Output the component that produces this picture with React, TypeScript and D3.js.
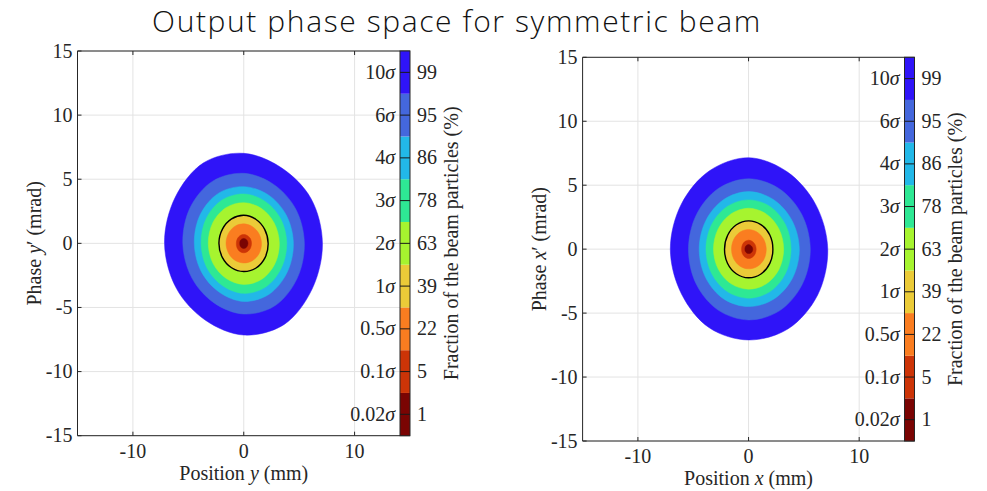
import React from "react";
import * as d3 from "d3";

// Contour levels, innermost first
const levelPercent = ["1", "5", "22", "39", "63", "78", "86", "95", "99"];
const levelSigma = ["0.02", "0.1", "0.5", "1", "2", "3", "4", "6", "10"];
const levelColors = [
  "#7a0403",
  "#cc3407",
  "#fa7d20",
  "#ebcb38",
  "#a6f42f",
  "#2ee894",
  "#22b8e8",
  "#4467dd",
  "#2f14f8",
];
// the 1σ contour is outlined in black
const outlinedLevel = 3;

// Contour radii sampled every 30° (0° = +position axis, counter-clockwise)
const contourAngles = [0, 30, 60, 90, 120, 150, 180, 210, 240, 270, 300, 330];

const radiiY = [
  [0.38, 0.38, 0.38, 0.38, 0.38, 0.38, 0.36, 0.38, 0.4, 0.4, 0.4, 0.38],
  [0.7, 0.7, 0.69, 0.69, 0.69, 0.68, 0.67, 0.7, 0.73, 0.74, 0.73, 0.71],
  [1.6, 1.56, 1.52, 1.52, 1.55, 1.58, 1.6, 1.57, 1.54, 1.53, 1.56, 1.6],
  [2.2, 2.18, 2.17, 2.19, 2.2, 2.22, 2.24, 2.22, 2.2, 2.2, 2.22, 2.22],
  [3.21, 3.17, 3.15, 3.17, 3.21, 3.22, 3.2, 3.18, 3.16, 3.2, 3.24, 3.23],
  [3.88, 3.84, 3.8, 3.85, 3.9, 3.9, 3.85, 3.83, 3.81, 3.9, 3.94, 3.9],
  [4.48, 4.42, 4.38, 4.42, 4.52, 4.52, 4.46, 4.42, 4.4, 4.53, 4.58, 4.52],
  [5.47, 5.4, 5.33, 5.46, 5.6, 5.58, 5.5, 5.4, 5.36, 5.51, 5.62, 5.54],
  [7.1, 7.0, 6.8, 7.02, 7.25, 7.15, 7.15, 7.02, 6.92, 7.15, 7.3, 7.12],
];

const radiiX = [
  [0.38, 0.36, 0.35, 0.36, 0.35, 0.34, 0.33, 0.34, 0.34, 0.34, 0.36, 0.38],
  [0.69, 0.69, 0.7, 0.7, 0.68, 0.65, 0.63, 0.66, 0.7, 0.73, 0.72, 0.7],
  [1.6, 1.57, 1.54, 1.54, 1.54, 1.54, 1.54, 1.54, 1.54, 1.54, 1.57, 1.6],
  [2.2, 2.22, 2.22, 2.21, 2.2, 2.18, 2.17, 2.2, 2.22, 2.24, 2.24, 2.22],
  [3.17, 3.17, 3.18, 3.2, 3.18, 3.17, 3.17, 3.15, 3.13, 3.13, 3.15, 3.17],
  [3.84, 3.85, 3.86, 3.85, 3.85, 3.85, 3.85, 3.84, 3.83, 3.83, 3.84, 3.84],
  [4.59, 4.52, 4.48, 4.5, 4.48, 4.46, 4.46, 4.47, 4.49, 4.49, 4.52, 4.57],
  [5.58, 5.52, 5.48, 5.5, 5.47, 5.43, 5.43, 5.46, 5.5, 5.53, 5.57, 5.58],
  [7.16, 7.0, 6.98, 7.15, 7.07, 7.02, 7.07, 7.0, 7.1, 7.1, 7.18, 7.2],
];

const xTicks = [-10, 0, 10];
const yTicks = [-15, -10, -5, 0, 5, 10, 15];
const axisDomain: [number, number] = [-15, 15];

const titleText = "Output phase space for symmetric beam";
const colorbarTitle = "Fraction of the beam particles (%)";

const SERIF = "'Liberation Serif', 'Times New Roman', serif";
const AXIS_COLOR = "#262626";
const GRID_COLOR = "#e3e3e3";
const FS = 20;

type PanelProps = {
  left: number;
  right: number;
  top: number;
  bottom: number;
  radii: number[][];
  variable: string;
};

function Panel({ left, right, top, bottom, radii, variable }: PanelProps) {
  const x = d3.scaleLinear().domain(axisDomain).range([left, right]);
  const y = d3.scaleLinear().domain(axisDomain).range([bottom, top]);

  const line = d3
    .line<[number, number]>()
    .x((d) => x(d[0]))
    .y((d) => y(d[1]))
    .curve(d3.curveCatmullRomClosed.alpha(0.5));

  const contourPath = (r: number[]) =>
    line(
      contourAngles.map((a, i) => {
        const t = (a * Math.PI) / 180;
        return [r[i] * Math.cos(t), r[i] * Math.sin(t)] as [number, number];
      })
    ) ?? "";

  const cbW = 10;
  const cbLeft = right - cbW;
  const band = d3
    .scaleBand<string>()
    .domain(levelPercent)
    .range([bottom, top])
    .paddingInner(0)
    .paddingOuter(0);

  const tickLen = 4;
  const cx = (left + right) / 2;
  const cy = (top + bottom) / 2;

  return (
    <g>
      {/* grid */}
      {xTicks.map((t) => (
        <line key={"gx" + t} x1={x(t)} x2={x(t)} y1={top} y2={bottom} stroke={GRID_COLOR} strokeWidth={1} />
      ))}
      {yTicks.map((t) => (
        <line key={"gy" + t} x1={left} x2={right} y1={y(t)} y2={y(t)} stroke={GRID_COLOR} strokeWidth={1} />
      ))}

      {/* filled contours, outermost drawn first */}
      {radii
        .map((r, i) => ({ r, i }))
        .reverse()
        .map(({ r, i }) => (
          <path key={"c" + i} d={contourPath(r)} fill={levelColors[i]} stroke={levelColors[i]} strokeWidth={0.5} />
        ))}
      <path d={contourPath(radii[outlinedLevel])} fill="none" stroke="#000" strokeWidth={1.4} />

      {/* axes box */}
      <line x1={left} x2={left} y1={top} y2={bottom} stroke={AXIS_COLOR} strokeWidth={1} />
      <line x1={left} x2={right} y1={bottom} y2={bottom} stroke={AXIS_COLOR} strokeWidth={1} />
      <line x1={left} x2={right} y1={top} y2={top} stroke={AXIS_COLOR} strokeWidth={1} />
      {xTicks.map((t) => (
        <g key={"tx" + t}>
          <line x1={x(t)} x2={x(t)} y1={bottom} y2={bottom - tickLen} stroke={AXIS_COLOR} />
          <line x1={x(t)} x2={x(t)} y1={top} y2={top + tickLen} stroke={AXIS_COLOR} />
          <text x={x(t)} y={bottom + 22} textAnchor="middle" fontFamily={SERIF} fontSize={FS} fill={AXIS_COLOR}>
            {t < 0 ? "-" + Math.abs(t) : String(t)}
          </text>
        </g>
      ))}
      {yTicks.map((t) => (
        <g key={"ty" + t}>
          <line x1={left} x2={left + tickLen} y1={y(t)} y2={y(t)} stroke={AXIS_COLOR} />
          <text x={left - 5} y={y(t)} dy="0.33em" textAnchor="end" fontFamily={SERIF} fontSize={FS} fill={AXIS_COLOR}>
            {t < 0 ? "-" + Math.abs(t) : String(t)}
          </text>
        </g>
      ))}

      {/* axis titles */}
      <text x={cx} y={bottom + 44} textAnchor="middle" fontFamily={SERIF} fontSize={FS} fill={AXIS_COLOR}>
        Position <tspan fontStyle="italic">{variable}</tspan> (mm)
      </text>
      <text
        transform={`translate(${left - 43},${cy}) rotate(-90)`}
        textAnchor="middle"
        dy="0.33em"
        fontFamily={SERIF}
        fontSize={FS}
        fill={AXIS_COLOR}
      >
        Phase <tspan fontStyle="italic">{variable}</tspan>′ (mrad)
      </text>

      {/* colorbar */}
      {levelPercent.map((p, i) => (
        <rect key={"cb" + p} x={cbLeft} y={band(p)!} width={cbW} height={band.bandwidth()} fill={levelColors[i]} />
      ))}
      <rect x={cbLeft} y={top} width={cbW} height={bottom - top} fill="none" stroke={AXIS_COLOR} strokeWidth={1} />
      {levelPercent.map((p, i) => {
        const ty = band(p)! + band.bandwidth() / 2;
        return (
          <g key={"cbt" + p}>
            <line x1={cbLeft} x2={right} y1={ty} y2={ty} stroke="#1a1a1a" strokeWidth={1} />
            <text x={cbLeft - 5} y={ty} dy="0.33em" textAnchor="end" fontFamily={SERIF} fontSize={FS} fill={AXIS_COLOR}>
              {levelSigma[i]}
              <tspan fontStyle="italic">σ</tspan>
            </text>
            <text x={right + 7} y={ty} dy="0.33em" textAnchor="start" fontFamily={SERIF} fontSize={FS} fill={AXIS_COLOR}>
              {p}
            </text>
          </g>
        );
      })}
      <text
        transform={`translate(${right + 41},${cy}) rotate(-90)`}
        textAnchor="middle"
        dy="0.33em"
        fontFamily={SERIF}
        fontSize={FS}
        fill={AXIS_COLOR}
      >
        {colorbarTitle}
      </text>
    </g>
  );
}

export default function App() {
  return (
    <div style={{ position: "absolute", left: 0, top: 0 }}>
      <svg width={987} height={491} style={{ display: "block", background: "#fff" }}>
        <rect width={987} height={491} fill="#fff" />
        <text
          x={457}
          y={31.5}
          textAnchor="middle"
          fontFamily="'Open Sans', Lato, sans-serif"
          fontWeight={300}
          fontSize={30}
          letterSpacing={1.6}
          fill="#111"
        >
          {titleText}
        </text>
        <Panel left={77.5} right={410} top={51} bottom={435.7} radii={radiiY} variable="y" />
        <Panel left={582.6} right={914.5} top={57.3} bottom={441} radii={radiiX} variable="x" />
      </svg>
    </div>
  );
}
